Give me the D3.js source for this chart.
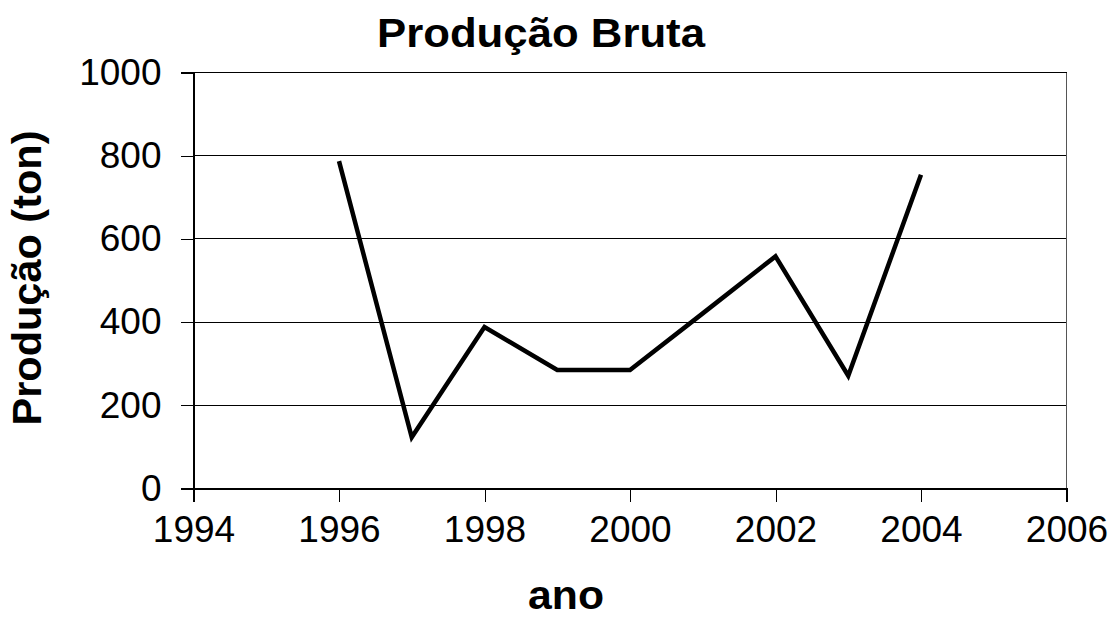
<!DOCTYPE html>
<html>
<head>
  <meta charset="utf-8">
  <title>Produção Bruta</title>
  <style>
    body { margin: 0; background: white; }
    svg text { font-family: "Liberation Sans", Arial, sans-serif; fill: black; }
    .tick text { font-size: 37px; }
    .title, .axis-label { font-weight: bold; }
  </style>
</head>
<body>
  <div id="chart"></div>
  <script src="https://cdn.jsdelivr.net/npm/d3@7"></script>
  <script>
    // values
    const years = [1996, 1997, 1998, 1999, 2000, 2001, 2002, 2003, 2004];
    const producao = [787, 123, 388, 285, 285, 421, 558, 271, 754];
    const xTicks = [1994, 1996, 1998, 2000, 2002, 2004, 2006];
    const yTicks = [0, 200, 400, 600, 800, 1000];

    const width = 1112, height = 619;
    const margin = { left: 193.5, right: 1112 - 1066.5, top: 72.5, bottom: 619 - 488.5 };

    const svg = d3.select('#chart').append('svg')
      .attr('width', width)
      .attr('height', height);

    const x = d3.scaleLinear().domain([1994, 2006]).range([margin.left, width - margin.right]);
    const y = d3.scaleLinear().domain([0, 1000]).range([height - margin.bottom, margin.top]);

    // gridlines
    svg.append('g')
      .selectAll('line')
      .data(yTicks.filter(d => d > 0))
      .enter().append('line')
        .attr('x1', x(1994)).attr('x2', x(2006))
        .attr('y1', d => y(d)).attr('y2', d => y(d))
        .attr('stroke', '#000').attr('stroke-width', 1)
        .attr('shape-rendering', 'crispEdges');

    // right border
    svg.append('line')
      .attr('x1', x(2006)).attr('x2', x(2006))
      .attr('y1', y(1000)).attr('y2', y(0))
      .attr('stroke', '#555').attr('stroke-width', 1)
      .attr('shape-rendering', 'crispEdges');

    const xAxis = svg.append('g')
      .attr('transform', `translate(0,${y(0)})`)
      .call(d3.axisBottom(x).tickValues(xTicks).tickFormat(d3.format('d')).tickSize(13).tickPadding(14));

    const yAxis = svg.append('g')
      .attr('transform', `translate(${x(1994)},0)`)
      .call(d3.axisLeft(y).tickValues(yTicks).tickFormat(d3.format('d')).tickSize(13).tickPadding(19));

    [xAxis, yAxis].forEach(g => {
      g.attr('font-family', null).attr('font-size', null);
      g.select('.domain').attr('stroke', '#000').attr('stroke-width', 1.5).attr('shape-rendering', 'crispEdges');
      g.selectAll('.tick line').attr('stroke', '#000').attr('stroke-width', 1).attr('shape-rendering', 'crispEdges');
    });
    yAxis.selectAll('.tick text').attr('font-size', 39);

    // data line
    const line = d3.line()
      .x((d, i) => x(years[i]))
      .y(d => y(d));

    svg.append('path')
      .datum(producao)
      .attr('d', line)
      .attr('fill', 'none')
      .attr('stroke', '#000')
      .attr('stroke-width', 4.5)
      .attr('stroke-linejoin', 'miter');

    // titles
    svg.append('text')
      .attr('class', 'title')
      .attr('x', 541).attr('y', 47)
      .attr('text-anchor', 'middle')
      .attr('font-size', 41)
      .attr('textLength', 328).attr('lengthAdjust', 'spacingAndGlyphs')
      .text('Produção Bruta');

    svg.append('text')
      .attr('class', 'axis-label')
      .attr('x', 566).attr('y', 609)
      .attr('text-anchor', 'middle')
      .attr('font-size', 41)
      .attr('textLength', 76).attr('lengthAdjust', 'spacingAndGlyphs')
      .text('ano');

    svg.append('text')
      .attr('class', 'axis-label')
      .attr('transform', 'translate(41,278) rotate(-90)')
      .attr('text-anchor', 'middle')
      .attr('font-size', 41)
      .attr('textLength', 295).attr('lengthAdjust', 'spacingAndGlyphs')
      .text('Produção (ton)');
  </script>
</body>
</html>
